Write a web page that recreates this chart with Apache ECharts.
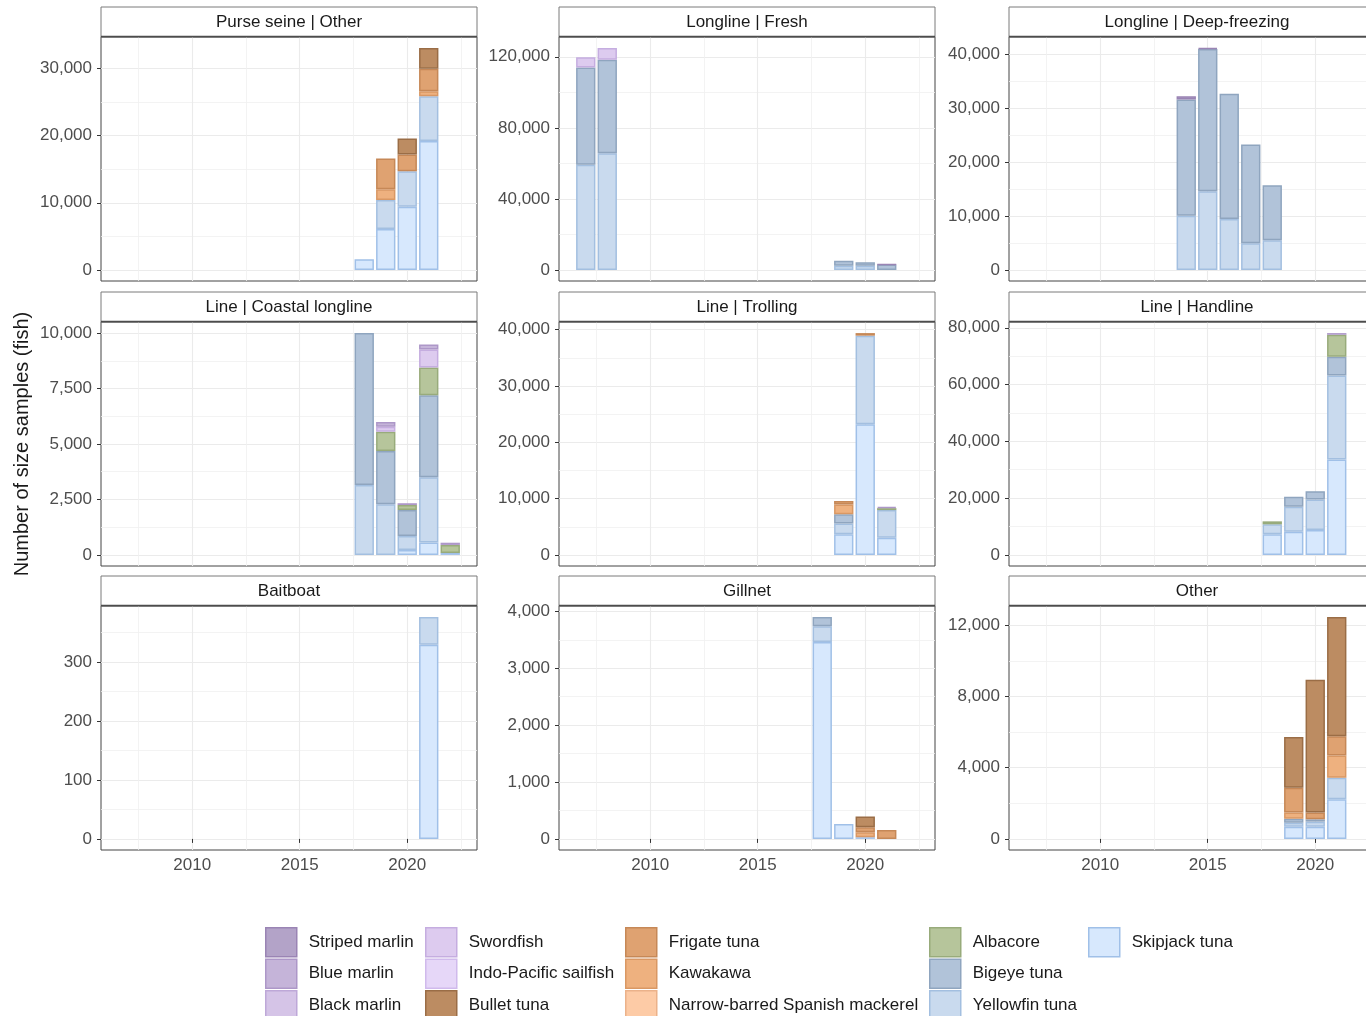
<!DOCTYPE html>
<html>
<head>
<meta charset="utf-8">
<script src="https://cdn.jsdelivr.net/npm/echarts@6/dist/echarts.min.js"></script>
<style>html,body{margin:0;padding:0;background:#fff}#c{width:1366px;height:1016px}</style>
</head>
<body>
<div id="c"></div>
<script>
const FONT = '"Liberation Sans", Arial, Helvetica, sans-serif';

const SPECIES = ['Striped marlin','Blue marlin','Black marlin','Swordfish','Indo-Pacific sailfish','Bullet tuna','Frigate tuna','Kawakawa','Narrow-barred Spanish mackerel','Albacore','Bigeye tuna','Yellowfin tuna','Skipjack tuna'];
const SPECIES_FILL = ['#B3A3C8','#C5B4D9','#D5C4E7','#DDCBEF','#E6D7F8','#BC8C62','#DFA271','#EEB17F','#FDCBA6','#B6C59B','#B1C3D9','#C9DAEE','#D7E8FD'];
const SPECIES_EDGE = ['#9A84B4','#AD97C8','#BEA8D8','#C5ADE0','#D0BAEC','#9A6D46','#C68857','#D99864','#EBB28A','#98AB7B','#8FA5BF','#A3BFE0','#A0C0E8'];

const X_TICKS = [2010, 2015, 2020];

// Purse seine | Other
const PS_YEARS = [2018, 2019, 2020, 2021];
const PS_SKIPJACK = [1600, 6100, 9400, 19200];
const PS_YELLOWFIN = [0, 4300, 5300, 6650];
const PS_KAWAKAWA = [0, 1600, 0, 750];
const PS_FRIGATE = [0, 4600, 2500, 3370];
const PS_BULLET = [0, 0, 2370, 3060];
const PS_TICKS = [0, 10000, 20000, 30000];

// Longline | Fresh
const LF_YEARS = [2007, 2008, 2019, 2020, 2021];
const LF_YELLOWFIN = [59150, 65700, 2300, 2300, 0];
const LF_BIGEYE = [54850, 52600, 2900, 2000, 3000];
const LF_SWORDFISH = [5800, 6600, 0, 0, 0];
const LF_STRIPED = [0, 0, 0, 0, 200];
const LF_TICKS = [0, 40000, 80000, 120000];

// Longline | Deep-freezing
const LD_YEARS = [2014, 2015, 2016, 2017, 2018];
const LD_YELLOWFIN = [10060, 14630, 9440, 4940, 5490];
const LD_BIGEYE = [21610, 26420, 23280, 18330, 10250];
const LD_STRIPED = [600, 150, 0, 0, 0];
const LD_TICKS = [0, 10000, 20000, 30000, 40000];

// Line | Coastal longline
const CL_YEARS = [2018, 2019, 2020, 2021, 2022];
const CL_SKIPJACK = [0, 0, 225, 555, 90];
const CL_YELLOWFIN = [3150, 2280, 630, 2945, 0];
const CL_BIGEYE = [6850, 2400, 1175, 3700, 0];
const CL_ALBACORE = [0, 870, 220, 1250, 360];
const CL_SWORDFISH = [0, 230, 0, 810, 0];
const CL_BLUE = [0, 210, 80, 230, 100];
const CL_TICKS = [0, 2500, 5000, 7500, 10000];

// Line | Trolling
const TR_YEARS = [2019, 2020, 2021];
const TR_SKIPJACK = [3660, 23190, 3070];
const TR_YELLOWFIN = [1940, 15750, 4890];
const TR_BIGEYE = [1600, 0, 0];
const TR_ALBACORE = [0, 0, 350];
const TR_KAWAKAWA = [1770, 0, 0];
const TR_FRIGATE = [590, 460, 0];
const TR_BLUE = [0, 0, 200];
const TR_TICKS = [0, 10000, 20000, 30000, 40000];

// Line | Handline
const HL_YEARS = [2018, 2019, 2020, 2021];
const HL_SKIPJACK = [7260, 8190, 8770, 33570];
const HL_YELLOWFIN = [3510, 8770, 10760, 29590];
const HL_BIGEYE = [0, 3510, 2930, 6660];
const HL_ALBACORE = [1050, 0, 0, 7720];
const HL_BLUE = [0, 0, 0, 590];
const HL_TICKS = [0, 20000, 40000, 60000, 80000];

// Baitboat
const BB_YEARS = [2021];
const BB_SKIPJACK = [329];
const BB_YELLOWFIN = [47];
const BB_TICKS = [0, 100, 200, 300];

// Gillnet
const GN_YEARS = [2018, 2019, 2020, 2021];
const GN_SKIPJACK = [3460, 263, 30, 0];
const GN_YELLOWFIN = [277, 0, 0, 0];
const GN_BIGEYE = [163, 0, 0, 0];
const GN_KAWAKAWA = [0, 0, 88, 0];
const GN_FRIGATE = [0, 0, 85, 158];
const GN_BULLET = [0, 0, 190, 0];
const GN_TICKS = [0, 1000, 2000, 3000, 4000];

// Other
const OT_YEARS = [2019, 2020, 2021];
const OT_SKIPJACK = [690, 690, 2230];
const OT_YELLOWFIN = [220, 280, 1200];
const OT_BIGEYE = [220, 130, 0];
const OT_KAWAKAWA = [360, 0, 1260];
const OT_FRIGATE = [1380, 390, 1080];
const OT_BULLET = [2850, 7450, 6690];
const OT_TICKS = [0, 4000, 8000, 12000];

const PANELS = [
  { title: 'Purse seine | Other', years: PS_YEARS, ticks: PS_TICKS, values: {
    'Skipjack tuna': PS_SKIPJACK, 'Yellowfin tuna': PS_YELLOWFIN, 'Kawakawa': PS_KAWAKAWA, 'Frigate tuna': PS_FRIGATE, 'Bullet tuna': PS_BULLET } },
  { title: 'Longline | Fresh', years: LF_YEARS, ticks: LF_TICKS, values: {
    'Yellowfin tuna': LF_YELLOWFIN, 'Bigeye tuna': LF_BIGEYE, 'Swordfish': LF_SWORDFISH, 'Striped marlin': LF_STRIPED } },
  { title: 'Longline | Deep-freezing', years: LD_YEARS, ticks: LD_TICKS, values: {
    'Yellowfin tuna': LD_YELLOWFIN, 'Bigeye tuna': LD_BIGEYE, 'Striped marlin': LD_STRIPED } },
  { title: 'Line | Coastal longline', years: CL_YEARS, ticks: CL_TICKS, values: {
    'Skipjack tuna': CL_SKIPJACK, 'Yellowfin tuna': CL_YELLOWFIN, 'Bigeye tuna': CL_BIGEYE, 'Albacore': CL_ALBACORE, 'Swordfish': CL_SWORDFISH, 'Blue marlin': CL_BLUE } },
  { title: 'Line | Trolling', years: TR_YEARS, ticks: TR_TICKS, values: {
    'Skipjack tuna': TR_SKIPJACK, 'Yellowfin tuna': TR_YELLOWFIN, 'Bigeye tuna': TR_BIGEYE, 'Albacore': TR_ALBACORE, 'Kawakawa': TR_KAWAKAWA, 'Frigate tuna': TR_FRIGATE, 'Blue marlin': TR_BLUE } },
  { title: 'Line | Handline', years: HL_YEARS, ticks: HL_TICKS, values: {
    'Skipjack tuna': HL_SKIPJACK, 'Yellowfin tuna': HL_YELLOWFIN, 'Bigeye tuna': HL_BIGEYE, 'Albacore': HL_ALBACORE, 'Blue marlin': HL_BLUE } },
  { title: 'Baitboat', years: BB_YEARS, ticks: BB_TICKS, values: {
    'Skipjack tuna': BB_SKIPJACK, 'Yellowfin tuna': BB_YELLOWFIN } },
  { title: 'Gillnet', years: GN_YEARS, ticks: GN_TICKS, values: {
    'Skipjack tuna': GN_SKIPJACK, 'Yellowfin tuna': GN_YELLOWFIN, 'Bigeye tuna': GN_BIGEYE, 'Kawakawa': GN_KAWAKAWA, 'Frigate tuna': GN_FRIGATE, 'Bullet tuna': GN_BULLET } },
  { title: 'Other', years: OT_YEARS, ticks: OT_TICKS, values: {
    'Skipjack tuna': OT_SKIPJACK, 'Yellowfin tuna': OT_YELLOWFIN, 'Bigeye tuna': OT_BIGEYE, 'Kawakawa': OT_KAWAKAWA, 'Frigate tuna': OT_FRIGATE, 'Bullet tuna': OT_BULLET } }
];

// ---------- layout ----------
const COL_X = [101, 559, 1009];
const ROW_Y = [37, 322, 606];
const PW = 376, PH = 244, STRIP_H = 30;
const LEGEND_COLS = [[0,1,2],[3,4,5],[6,7,8],[9,10,11],[12]];
const LEGEND_X = [265, 425, 625, 929, 1088];
const LABEL_SIZE = 17;

const fmt = v => String(Math.round(v)).replace(/\B(?=(\d{3})+(?!\d))/g, ',');

// x range from the data (bar width 0.9 plus 5% expansion)
const allYears = PANELS.flatMap(p => p.years);
const xlo = Math.min(...allYears) - 0.45, xhi = Math.max(...allYears) + 0.45;
const xpad = (xhi - xlo) * 0.05;
const XMIN = xlo - xpad, XMAX = xhi + xpad;
function minorsOf(ticks, lo, hi) {
  const st = ticks[1] - ticks[0];
  const out = [];
  for (let v = ticks[0] - st / 2; v <= ticks[ticks.length - 1] + st / 2 + 1e-9; v += st) {
    if (v > lo && v < hi) out.push(v);
  }
  return out;
}
const X_MINOR = minorsOf(X_TICKS, XMIN, XMAX);
const BAR_W = 0.9 * PW / (XMAX - XMIN);

const grids = [], xAxes = [], yAxes = [], series = [], graphics = [];
const usedSpecies = new Set();

PANELS.forEach((p, i) => {
  const col = i % 3, row = Math.floor(i / 3);
  const left = COL_X[col], top = ROW_Y[row];
  grids.push({ left: left, top: top, width: PW, height: PH, show: true, borderColor: '#444444', borderWidth: 1,
    backgroundColor: 'transparent', containLabel: false, outerBoundsMode: 'none' });

  const sums = p.years.map((y, k) => Object.values(p.values).reduce((a, arr) => a + (arr[k] || 0), 0));
  const M = Math.max(...sums);
  const ymin = -0.05 * M, ymax = 1.05 * M;
  const bottomRow = row === 2;

  // major x axis
  xAxes.push({ type: 'value', gridIndex: i, min: XMIN, max: XMAX, position: 'bottom',
    axisLine: { show: false },
    axisTick: { show: bottomRow, length: 4, lineStyle: { color: '#333', width: 1 }, customValues: X_TICKS },
    axisLabel: { show: bottomRow, customValues: X_TICKS, color: '#4D4D4D', fontSize: LABEL_SIZE, fontFamily: FONT, margin: 7, formatter: v => String(v) },
    splitLine: { show: true, lineStyle: { color: '#EBEBEB', width: 1.1 } } });
  // minor x axis
  xAxes.push({ type: 'value', gridIndex: i, min: XMIN, max: XMAX, position: 'bottom',
    axisLine: { show: false }, axisTick: { show: false, customValues: X_MINOR }, axisLabel: { show: false },
    splitLine: { show: true, lineStyle: { color: '#F0F0F0', width: 0.8 } } });
  // major y axis
  yAxes.push({ type: 'value', gridIndex: i, min: ymin, max: ymax, position: 'left',
    axisLine: { show: false },
    axisTick: { show: true, length: 4, lineStyle: { color: '#333', width: 1 }, customValues: p.ticks },
    axisLabel: { show: true, customValues: p.ticks, color: '#4D4D4D', fontSize: LABEL_SIZE, fontFamily: FONT, margin: 9, formatter: fmt },
    splitLine: { show: true, lineStyle: { color: '#EBEBEB', width: 1.1 } } });
  // minor y axis
  yAxes.push({ type: 'value', gridIndex: i, min: ymin, max: ymax, position: 'left', offset: 0,
    axisLine: { show: false }, axisTick: { show: false, customValues: minorsOf(p.ticks, ymin, ymax) }, axisLabel: { show: false },
    splitLine: { show: true, lineStyle: { color: '#F0F0F0', width: 0.8 } } });

  // stacked bars: bottom of stack is the last species
  for (let s = SPECIES.length - 1; s >= 0; s--) {
    const name = SPECIES[s];
    const arr = p.values[name];
    if (!arr) continue;
    usedSpecies.add(name);
    series.push({
      type: 'bar', name: name, xAxisIndex: 2 * i, yAxisIndex: 2 * i, stack: 'panel' + i,
      barWidth: BAR_W, silent: true, animation: false,
      encode: { x: 1, y: 0 },
      itemStyle: { color: SPECIES_FILL[s], borderColor: SPECIES_EDGE[s], borderWidth: 1.5 },
      data: p.years.map((y, k) => [arr[k] > 0 ? arr[k] : '-', y])
    });
  }

  // strip
  graphics.push({ type: 'rect', z: 10, shape: { x: left, y: top - STRIP_H, width: PW, height: STRIP_H },
    style: { fill: '#FFFFFF', stroke: '#7A7A7A', lineWidth: 1 } });
  graphics.push({ type: 'line', z: 11, shape: { x1: left, y1: top - 0.5, x2: left + PW, y2: top - 0.5 },
    style: { stroke: '#4D4D4D', lineWidth: 1.6 } });
  graphics.push({ type: 'text', z: 12, x: left + PW / 2, y: top - STRIP_H / 2,
    style: { text: p.title, fill: '#1A1A1A', font: '17px ' + FONT, textAlign: 'center', textVerticalAlign: 'middle' } });
});

// species with no samples in any panel still get an (empty) series so the legend lists them
SPECIES.forEach((name, s) => {
  if (usedSpecies.has(name)) return;
  series.push({ type: 'bar', name: name, xAxisIndex: 0, yAxisIndex: 0, stack: 'panel0', barWidth: BAR_W,
    silent: true, encode: { x: 1, y: 0 },
    itemStyle: { color: SPECIES_FILL[s], borderColor: SPECIES_EDGE[s], borderWidth: 1.5 }, data: [] });
});

graphics.push({ type: 'text', z: 12, x: 22, y: 444, rotation: Math.PI / 2,
  style: { text: 'Number of size samples (fish)', fill: '#1A1A1A', font: '20px ' + FONT, textAlign: 'center', textVerticalAlign: 'middle' } });

const legends = LEGEND_COLS.map((cols, k) => ({
  orient: 'vertical', left: LEGEND_X[k], top: 927, height: 120, width: 320, padding: 0,
  itemWidth: 31, itemHeight: 29, itemGap: 1, icon: 'rect', selectedMode: false,
  textStyle: { fontFamily: FONT, fontSize: LABEL_SIZE, color: '#1A1A1A', padding: [0, 0, 0, 7] },
  data: cols.map(s => ({ name: SPECIES[s], itemStyle: { color: SPECIES_FILL[s], borderColor: SPECIES_EDGE[s], borderWidth: 1.5 } }))
}));

const chart = echarts.init(document.getElementById('c'), null, { renderer: 'canvas' });
chart.setOption({
  animation: false,
  backgroundColor: '#FFFFFF',
  textStyle: { fontFamily: FONT },
  grid: grids, xAxis: xAxes, yAxis: yAxes, series: series,
  legend: legends, graphic: graphics,
  tooltip: { show: false }
});
</script>
</body>
</html>
